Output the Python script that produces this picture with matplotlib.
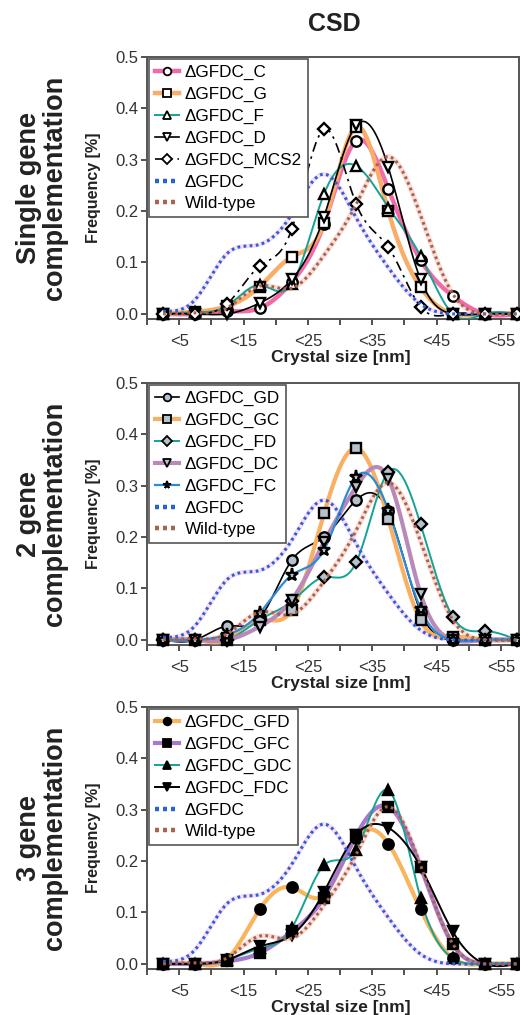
import numpy as np
import matplotlib
matplotlib.use("Agg")
import matplotlib.pyplot as plt
from matplotlib.lines import Line2D

plt.rcParams["font.family"] = ["Liberation Sans", "DejaVu Sans"]

# bin centres (nm) and tick labels
sizes = [2.5, 7.5, 12.5, 17.5, 22.5, 27.5, 32.5, 37.5, 42.5, 47.5, 52.5, 57.5]
tick_pos = [5, 15, 25, 35, 45, 55]
tick_labels = ["<5", "<15", "<25", "<35", "<45", "<55"]

# reference strains (same in every panel)
gfdc = [0.005, 0.028, 0.118, 0.135, 0.194, 0.272, 0.187, 0.090, 0.019, 0.0, 0.0, 0.0]
wild_type = [0.0, 0.002, 0.012, 0.054, 0.050, 0.114, 0.213, 0.306, 0.192, 0.039, 0.0, 0.0]

# single gene complementation
single_c = [0.0, 0.0, 0.005, 0.011, 0.062, 0.175, 0.337, 0.243, 0.105, 0.035, 0.0, 0.0]
single_g = [0.0, 0.004, 0.015, 0.053, 0.111, 0.177, 0.364, 0.200, 0.052, 0.0, 0.0, 0.0]
single_f = [0.0, 0.003, 0.016, 0.056, 0.058, 0.233, 0.288, 0.207, 0.113, 0.0, 0.0, 0.0]
single_d = [0.0, 0.0, 0.0, 0.021, 0.067, 0.189, 0.367, 0.285, 0.067, 0.0, 0.0, 0.0]
single_mcs2 = [0.0, 0.0, 0.020, 0.093, 0.165, 0.359, 0.214, 0.130, 0.014, 0.0, 0.0, 0.0]

# 2 gene complementation
double_gd = [0.0, 0.0, 0.027, 0.042, 0.155, 0.200, 0.272, 0.250, 0.055, 0.0, 0.0, 0.0]
double_gc = [0.0, 0.0, 0.0, 0.039, 0.058, 0.246, 0.373, 0.235, 0.038, 0.006, 0.0, 0.0]
double_fd = [0.0, 0.0, 0.0, 0.039, 0.075, 0.122, 0.151, 0.327, 0.225, 0.045, 0.017, 0.0]
double_dc = [0.0, 0.0, 0.0, 0.026, 0.078, 0.190, 0.298, 0.314, 0.090, 0.0, 0.0, 0.0]
double_fc = [0.0, 0.0, 0.010, 0.052, 0.126, 0.175, 0.317, 0.252, 0.061, 0.0, 0.0, 0.0]

# 3 gene complementation
triple_gfd = [0.0, 0.0, 0.010, 0.106, 0.149, 0.134, 0.245, 0.234, 0.106, 0.011, 0.0, 0.0]
triple_gfc = [0.0, 0.0, 0.005, 0.021, 0.063, 0.129, 0.250, 0.306, 0.189, 0.038, 0.0, 0.0]
triple_gdc = [0.0, 0.0, 0.008, 0.030, 0.070, 0.192, 0.222, 0.338, 0.128, 0.011, 0.0, 0.0]
triple_fdc = [0.0, 0.0, 0.008, 0.034, 0.056, 0.140, 0.251, 0.265, 0.189, 0.063, 0.0, 0.0]


def spline(x, y, n=400):
    # natural cubic spline through the bin values
    x = np.asarray(x, float)
    y = np.asarray(y, float)
    h = np.diff(x)
    m = len(x)
    A = np.zeros((m, m))
    b = np.zeros(m)
    A[0, 0] = A[-1, -1] = 1
    for i in range(1, m - 1):
        A[i, i - 1] = h[i - 1]
        A[i, i] = 2 * (h[i - 1] + h[i])
        A[i, i + 1] = h[i]
        b[i] = 3 * ((y[i + 1] - y[i]) / h[i] - (y[i] - y[i - 1]) / h[i - 1])
    c = np.linalg.solve(A, b)
    bb = (y[1:] - y[:-1]) / h - h * (2 * c[:-1] + c[1:]) / 3
    d = (c[1:] - c[:-1]) / (3 * h)
    xs = np.linspace(x[0], x[-1], n)
    k = np.clip(np.searchsorted(x, xs) - 1, 0, m - 2)
    dx = xs - x[k]
    return xs, y[k] + bb[k] * dx + c[k] * dx ** 2 + d[k] * dx ** 3


DOT = (0, (0.9, 1.1))


def draw_series(ax, y, color, lw, marker, mfc, ls="-", ms=7.5, z=3):
    xs, ys = spline(sizes, y)
    ax.plot(xs, ys, color=color, lw=lw, ls=ls, zorder=z, solid_capstyle="round")
    ax.plot(sizes, y, ls="none", marker=marker, ms=ms, mfc=mfc, mec="black",
            mew=1.7, zorder=z + 5, clip_on=False)
    return Line2D([], [], color=color, lw=lw, ls=ls, marker=marker, ms=5.5,
                  mfc=mfc, mec="black", mew=1.3)


def draw_refs(ax):
    xs, ys = spline(sizes, gfdc)
    ax.plot(xs, ys, color="#eeaae8", lw=3.2, alpha=0.4, zorder=2)
    ax.plot(xs, ys, color="#2a62d6", lw=2.2, ls=DOT, zorder=9)
    xs, ys = spline(sizes, wild_type)
    ax.plot(xs, ys, color="#f3b4a6", lw=3.6, alpha=0.45, zorder=2)
    ax.plot(xs, ys, color="#a8624e", lw=2.2, ls=DOT, zorder=9)
    h1 = Line2D([], [], color="#2a62d6", lw=3.2, ls=(0, (0.9, 0.9)))
    h2 = Line2D([], [], color="#a8624e", lw=3.2, ls=(0, (0.9, 0.9)))
    return [h1, h2]


fig = plt.figure(figsize=(5.2, 10.15), dpi=100)
fig.text(334 / 520, 1 - 24 / 1015, "CSD", ha="center", va="center",
         fontsize=18, fontweight="bold", color="#222222")

bottoms = [1 - 319 / 1015, 1 - 645 / 1015, 1 - 969 / 1015]
row_titles = ["Single gene\ncomplementation", "2 gene\ncomplementation",
              "3 gene\ncomplementation"]
axes = [fig.add_axes([147 / 520, b, 372 / 520, 262 / 1015]) for b in bottoms]

for ax, title in zip(axes, row_titles):
    ax.set_xlim(0, 57.8)
    ax.set_ylim(-0.01, 0.5)
    ax.set_xticks(np.arange(0, 56, 5))
    ax.set_xticklabels([tick_labels[tick_pos.index(t)] if t in tick_pos else ""
                        for t in range(0, 56, 5)])
    ax.set_yticks(np.arange(0, 0.51, 0.1))
    ax.set_yticklabels(["%.1f" % v for v in np.arange(0, 0.51, 0.1)])
    ax.tick_params(direction="out", length=4, width=1.2, labelsize=12,
                   colors="#333333", pad=2)
    ax.tick_params(axis="x", pad=7)
    for sp in ax.spines.values():
        sp.set_color("#555555")
        sp.set_linewidth(1.4)
    ax.text(0.52, -0.147, "Crystal size [nm]", transform=ax.transAxes,
            ha="center", va="center", fontsize=12.5, fontweight="bold",
            color="#222222")
    ax.text(-0.1425, 0.5, "Frequency [%]", transform=ax.transAxes, rotation=90,
            ha="center", va="center", fontsize=11.5, fontweight="bold",
            color="#222222")
    ax.text(-0.282, 0.5, title, transform=ax.transAxes, rotation=90,
            ha="center", va="center", fontsize=19.5, fontweight="bold",
            linespacing=1.0, multialignment="center", color="#222222")

# single gene
ax = axes[0]
handles = [
    draw_series(ax, single_c, "#f26aa6", 3.2, "o", "white"),
    draw_series(ax, single_g, "#f9ad68", 3.2, "s", "white"),
    draw_series(ax, single_f, "#12a394", 1.4, "^", "white"),
    draw_series(ax, single_d, "black", 1.2, "v", "white"),
    draw_series(ax, single_mcs2, "black", 1.2, "D", "white",
                ls=(0, (6, 3, 1.5, 3)), ms=6.5),
]
handles += draw_refs(ax)
labels = ["ΔGFDC_C", "ΔGFDC_G", "ΔGFDC_F", "ΔGFDC_D", "ΔGFDC_MCS2",
          "ΔGFDC", "Wild-type"]
axes_legends = [(ax, handles, labels)]

# 2 genes
ax = axes[1]
grey = "#b7c1cb"
handles = [
    draw_series(ax, double_gd, "black", 1.2, "o", grey),
    draw_series(ax, double_gc, "#f9b062", 3.0, "s", grey),
    draw_series(ax, double_fd, "#12a394", 1.4, "D", grey, ms=6.5),
    draw_series(ax, double_dc, "#b98ab9", 3.0, "v", grey),
    draw_series(ax, double_fc, "#2b8bd6", 1.6, "*", grey, ms=9.5),
]
handles += draw_refs(ax)
labels = ["ΔGFDC_GD", "ΔGFDC_GC", "ΔGFDC_FD", "ΔGFDC_DC", "ΔGFDC_FC",
          "ΔGFDC", "Wild-type"]
axes_legends.append((ax, handles, labels))

# 3 genes
ax = axes[2]
handles = [
    draw_series(ax, triple_gfd, "#f9b45e", 3.0, "o", "black"),
    draw_series(ax, triple_gfc, "#a878cc", 3.0, "s", "black"),
    draw_series(ax, triple_gdc, "#12a394", 1.4, "^", "black"),
    draw_series(ax, triple_fdc, "black", 1.4, "v", "black"),
]
handles += draw_refs(ax)
labels = ["ΔGFDC_GFD", "ΔGFDC_GFC", "ΔGFDC_GDC", "ΔGFDC_FDC",
          "ΔGFDC", "Wild-type"]
axes_legends.append((ax, handles, labels))

for ax, h, l in axes_legends:
    leg = ax.legend(h, l, loc="upper left", borderaxespad=0.1, fontsize=12.3,
                    handlelength=1.45, handletextpad=0.3, labelspacing=0.4,
                    borderpad=0.35, fancybox=False, framealpha=1)
    leg.get_frame().set_edgecolor("#555555")
    leg.get_frame().set_linewidth(1.2)
    leg.set_zorder(20)

fig.savefig("out.png", dpi=100)
